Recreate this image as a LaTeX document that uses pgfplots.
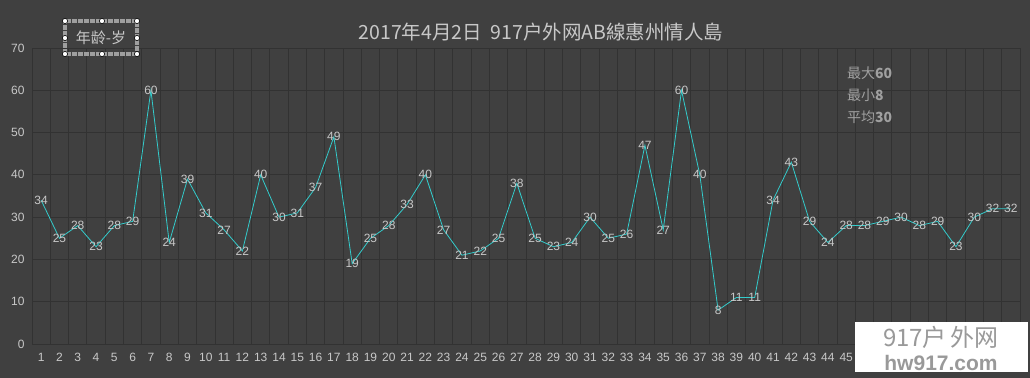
\documentclass[border=0pt]{standalone}
\usepackage{fontspec}
\setmainfont{Liberation Sans}
\newfontfamily\cjk{Noto Sans CJK SC}
\usepackage{pgfplots}
\pgfplotsset{compat=1.18}
\definecolor{bg}{HTML}{404040}
\definecolor{gridc}{HTML}{323232}
\definecolor{txt}{HTML}{C8C8C8}
\definecolor{linec}{HTML}{33CCCC}
\definecolor{stat}{HTML}{A0A0A0}
\begin{document}
\begin{tikzpicture}
\fill[bg] (0bp,0bp) rectangle (1030bp,378bp);
\begin{axis}[
  at={(32bp,34bp)}, anchor=south west,
  scale only axis, width=988bp, height=296bp,
  xmin=0.5, xmax=54.5, ymin=0, ymax=70,
  ytick={0,10,...,70},
  xtick={1,...,45},
  xticklabels={1,2,3,4,5,6,7,8,9,10,11,12,13,14,15,16,17,18,19,20,21,22,23,24,25,26,27,28,29,30,31,32,33,34,35,36,37,38,39,40,41,42,43,44,45},
  minor xtick={0.5,1.5,...,54.5},
  xminorgrids, ymajorgrids,
  major tick length=0pt, minor tick length=0pt,
  grid style={gridc, line width=0.9bp},
  minor grid style={gridc, line width=0.9bp},
  axis line style={gridc, line width=0.9bp},
  tick label style={txt, font=\fontsize{12bp}{13bp}\selectfont},
  /pgf/number format/assume math mode=true,
  yticklabel style={xshift=-4bp},
  xticklabel style={yshift=-6bp},
  clip=false,
]
\addplot[linec, line width=0.8bp, mark=none,
  nodes near coords,
  every node near coord/.append style={anchor=center, txt, font=\fontsize{12bp}{13bp}\selectfont, inner sep=0pt},
] coordinates {
(1,34)(2,25)(3,28)(4,23)(5,28)(6,29)(7,60)(8,24)(9,39)(10,31)
(11,27)(12,22)(13,40)(14,30)(15,31)(16,37)(17,49)(18,19)(19,25)(20,28)
(21,33)(22,40)(23,27)(24,21)(25,22)(26,25)(27,38)(28,25)(29,23)(30,24)
(31,30)(32,25)(33,26)(34,47)(35,27)(36,60)(37,40)(38,8)(39,11)(40,11)
(41,34)(42,43)(43,29)(44,24)(45,28)(46,28)(47,29)(48,30)(49,28)(50,29)
(51,23)(52,30)(53,32)(54,32)
};
\end{axis}
% title
\node[txt, font=\cjk\fontsize{19.5bp}{21bp}\selectfont] at (541bp,346bp) {2017年4月2日\ \ 917户外网AB線惠州情人島};
% stats
\node[stat, anchor=west, inner sep=0pt, font=\cjk\fontsize{14bp}{15bp}\selectfont] at (847bp,305bp) {最大\textbf{60}};
\node[stat, anchor=west, inner sep=0pt, font=\cjk\fontsize{14bp}{15bp}\selectfont] at (847bp,283bp) {最小\textbf{8}};
\node[stat, anchor=west, inner sep=0pt, font=\cjk\fontsize{14bp}{15bp}\selectfont] at (847bp,261bp) {平均\textbf{30}};
% legend box with selection handles
\draw[gray!75, line width=3.5bp, dash pattern=on 0.6bp off 0.6bp] (65bp,357bp) rectangle (137bp,324bp);
\node[txt, font=\cjk\fontsize{15bp}{16bp}\selectfont] at (101bp,340bp) {年龄-岁};
\foreach \hx/\hy in {65/357,102/357,137/357,65/340,137/340,65/324,102/324,137/324}
  \draw[black, fill=white, line width=0.6bp] (\hx bp,\hy bp) circle (2.6bp);
% watermark
\fill[white] (855bp,6bp) rectangle (1028bp,56bp);
\node[gray!80, inner sep=0pt, text height=19bp, text depth=2bp, font=\cjk\fontsize{24bp}{26bp}\selectfont] at (941bp,40bp) {917户\,外网};
\node[gray!80, inner sep=0pt, text height=15bp, text depth=1bp, font=\bfseries\fontsize{21bp}{23bp}\selectfont] at (941bp,15bp) {hw917.com};
\end{tikzpicture}
\end{document}
